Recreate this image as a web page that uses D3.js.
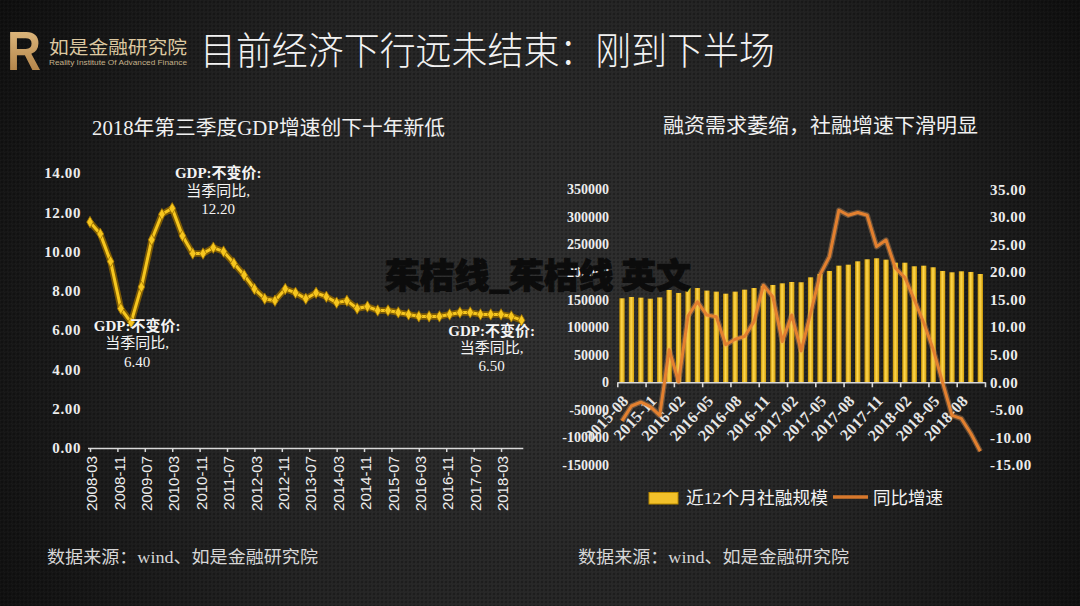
<!DOCTYPE html>
<html><head><meta charset="utf-8">
<script src="https://cdn.jsdelivr.net/npm/d3@7/dist/d3.min.js"></script>
<style>html,body{margin:0;padding:0;background:#1a1a1a;overflow:hidden}</style>
</head><body><script>
// ---------------- DATA ----------------
const gdpQuarters = ["2008-03","2008-06","2008-09","2008-12","2009-03","2009-06","2009-09","2009-12",
  "2010-03","2010-06","2010-09","2010-12","2011-03","2011-06","2011-09","2011-12",
  "2012-03","2012-06","2012-09","2012-12","2013-03","2013-06","2013-09","2013-12",
  "2014-03","2014-06","2014-09","2014-12","2015-03","2015-06","2015-09","2015-12",
  "2016-03","2016-06","2016-09","2016-12","2017-03","2017-06","2017-09","2017-12",
  "2018-03","2018-06","2018-09"];
const gdpValues = [11.5,10.9,9.5,7.1,6.4,8.2,10.6,11.9,12.2,10.8,9.9,9.9,10.2,10.0,9.4,8.8,
  8.1,7.6,7.5,8.1,7.9,7.6,7.9,7.7,7.4,7.5,7.1,7.2,7.0,7.0,6.9,6.8,6.7,6.7,6.7,6.8,6.9,6.9,6.8,6.8,6.8,6.7,6.5];
const gdpTickLabels = ["2008-03","2008-11","2009-07","2010-03","2010-11","2011-07","2012-03","2012-11",
  "2013-07","2014-03","2014-11","2015-07","2016-03","2016-11","2017-07","2018-03"];
const gdpYTicks = [0,2,4,6,8,10,12,14];
const gdpNoteQuarters = ["2010-03","2009-03","2018-09"];
const gdpNoteLines = ["GDP:不变价:","当季同比,"];

const tsfMonths = ["2015-08","2015-09","2015-10","2015-11","2015-12","2016-01","2016-02","2016-03","2016-04",
  "2016-05","2016-06","2016-07","2016-08","2016-09","2016-10","2016-11","2016-12","2017-01","2017-02",
  "2017-03","2017-04","2017-05","2017-06","2017-07","2017-08","2017-09","2017-10","2017-11","2017-12",
  "2018-01","2018-02","2018-03","2018-04","2018-05","2018-06","2018-07","2018-08","2018-09","2018-10"];
const tsfScale = [152300,154700,153500,151600,154000,167400,162000,171000,171000,166300,
  164400,160700,164400,168000,171000,174700,176500,179500,181900,181400,
  190400,196400,201900,211500,213300,219400,223100,224900,222400,216900,
  216900,210400,211500,208600,201900,199500,201300,200100,196400];
const tsfGrowth = [-7.0,-4.3,-3.6,-4.4,-6.0,5.9,0.1,12.0,14.6,12.2,
  11.9,6.8,7.8,8.3,11.0,17.6,15.5,7.4,12.2,5.7,
  12.5,19.5,22.8,31.2,30.3,30.8,30.3,24.6,25.8,20.7,
  19.0,15.0,10.8,6.0,0.0,-6.0,-6.6,-9.3,-12.5];
const tsfTickLabels = ["2015-08","2015-11","2016-02","2016-05","2016-08","2016-11","2017-02",
  "2017-05","2017-08","2017-11","2018-02","2018-05","2018-08"];
const tsfLeftTicks = [-150000,-100000,-50000,0,50000,100000,150000,200000,250000,300000,350000];
const tsfRightTicks = [-15,-10,-5,0,5,10,15,20,25,30,35];
const tsfLegend = ["近12个月社融规模","同比增速"];

const headerTitle = "目前经济下行远未结束：刚到下半场";
const logoCN = "如是金融研究院";
const logoEN = "Reality Institute Of Advanced Finance";
const leftTitle = "2018年第三季度GDP增速创下十年新低";
const rightTitle = "融资需求萎缩，社融增速下滑明显";
const sourceText = "数据来源：wind、如是金融研究院";
const watermark = "茱桔线_茱桔线 英文";

// ---------------- DRAW ----------------
const W = 1080, H = 606;
const SERIF = "'Liberation Serif','Noto Sans CJK SC',serif";
const CJK = "'Noto Sans CJK SC','Noto Sans',sans-serif";
const svg = d3.select("body").append("svg").attr("width", W).attr("height", H);
const defs = svg.append("defs");

const bg = defs.append("radialGradient").attr("id","bg").attr("gradientUnits","userSpaceOnUse")
  .attr("cx",540).attr("cy",320).attr("r",660);
bg.append("stop").attr("offset","0%").attr("stop-color","#303030");
bg.append("stop").attr("offset","55%").attr("stop-color","#232323");
bg.append("stop").attr("offset","100%").attr("stop-color","#0d0d0d");
const pat = defs.append("pattern").attr("id","tex").attr("width",4).attr("height",4).attr("patternUnits","userSpaceOnUse");
pat.append("circle").attr("cx",2).attr("cy",2).attr("r",1).attr("fill","#000").attr("opacity",0.3);
pat.append("circle").attr("cx",0).attr("cy",0).attr("r",0.8).attr("fill","#fff").attr("opacity",0.04);
pat.append("circle").attr("cx",4).attr("cy",4).attr("r",0.8).attr("fill","#fff").attr("opacity",0.04);

const barG = defs.append("linearGradient").attr("id","barg").attr("x1","0").attr("x2","1").attr("y1","0").attr("y2","0");
barG.append("stop").attr("offset","0%").attr("stop-color","#c99400");
barG.append("stop").attr("offset","45%").attr("stop-color","#ffd84e");
barG.append("stop").attr("offset","100%").attr("stop-color","#d39e08");
const logoG = defs.append("linearGradient").attr("id","logog").attr("x1","0").attr("x2","0").attr("y1","0").attr("y2","1");
logoG.append("stop").attr("offset","0%").attr("stop-color","#e8c48a");
logoG.append("stop").attr("offset","100%").attr("stop-color","#a8773c");

svg.append("rect").attr("width",W).attr("height",H).attr("fill","url(#bg)");
svg.append("rect").attr("width",W).attr("height",H).attr("fill","url(#tex)");

// Header
svg.append("text").attr("x",7).attr("y",70).attr("textLength",34).attr("lengthAdjust","spacingAndGlyphs")
  .style("font-family","'Liberation Sans',sans-serif").style("font-weight","bold").style("font-size","56px")
  .attr("fill","url(#logog)").text("R");
svg.append("text").attr("x",49).attr("y",54).attr("textLength",138).attr("lengthAdjust","spacingAndGlyphs")
  .style("font-family",CJK).style("font-size","18px").style("font-weight","400").attr("fill","#dcc8a0").text(logoCN);
svg.append("text").attr("x",49).attr("y",65).attr("textLength",138).attr("lengthAdjust","spacingAndGlyphs")
  .style("font-family","'Liberation Sans',sans-serif").style("font-size","7px").attr("fill","#c4b08a").text(logoEN);
svg.append("text").attr("x",200).attr("y",64).attr("textLength",575).attr("lengthAdjust","spacingAndGlyphs")
  .style("font-family",CJK).style("font-size","38px").style("font-weight","300").attr("fill","#f2f2f2").text(headerTitle);

// ============ LEFT CHART ============
const mi = s => (+s.slice(0,4))*12 + (+s.slice(5,7)) - 1;
const x0 = mi(gdpQuarters[0]);
const xL = d3.scaleLinear().domain([x0, x0 + 126.5]).range([90, 523.3]);
const yL = d3.scaleLinear().domain([0, 14]).range([448, 173]);

svg.append("text").attr("x",92).attr("y",135).attr("textLength",353).attr("lengthAdjust","spacingAndGlyphs")
  .style("font-family",SERIF).style("font-size","20px").attr("fill","#f0f0f0").text(leftTitle);

const yAxL = svg.append("g").attr("transform","translate(84,0)")
  .call(d3.axisLeft(yL).tickValues(gdpYTicks).tickFormat(d3.format(".2f")).tickSize(0).tickPadding(3));
yAxL.select(".domain").remove();
yAxL.selectAll("text").style("font-family",SERIF).style("font-size","15px").style("font-weight","bold")
  .style("letter-spacing","0.6px").attr("fill","#ececec");

const xAxL = svg.append("g").attr("transform","translate(0,448)")
  .call(d3.axisBottom(xL).tickValues(gdpTickLabels.map(mi))
    .tickFormat((d,i) => gdpTickLabels[i]).tickSize(4).tickSizeOuter(0));
xAxL.select(".domain").attr("stroke","#d8d8d8").attr("stroke-width",1.5).attr("d","M88,0.5H523.3");
xAxL.selectAll(".tick line").attr("stroke","#d8d8d8").attr("stroke-width",1.5);
xAxL.selectAll("text").attr("x",-8).attr("y",1.5).attr("dy","0.35em").attr("transform","rotate(-90)")
  .style("text-anchor","end").style("font-family","'Liberation Sans',sans-serif").style("font-size","15px").attr("fill","#eeeeee");

const gdpPts = gdpQuarters.map((q,i) => [xL(mi(q)), yL(gdpValues[i])]);
const gline = d3.line();
svg.append("path").attr("d",gline(gdpPts)).attr("fill","none").attr("stroke","#8c6400").attr("stroke-width",6.5)
  .attr("stroke-linejoin","round").attr("opacity",0.85);
svg.append("path").attr("d",gline(gdpPts)).attr("fill","none").attr("stroke","#f6c61e").attr("stroke-width",3)
  .attr("stroke-linejoin","round");
svg.append("g").selectAll("path").data(gdpPts).join("path")
  .attr("transform",d => `translate(${d[0]},${d[1]})`)
  .attr("d", d3.symbol(d3.symbolDiamond, 38))
  .attr("fill","#f6c61e").attr("stroke","#9a6e00").attr("stroke-width",0.8);

// annotations
const noteLayout = [{dx:46, dy:[-30,-12,6]}, {dx:6, dy:[9,26,45]}, {dx:-30, dy:[16,33,51]}];
gdpNoteQuarters.forEach((q,k) => {
  const i = gdpQuarters.indexOf(q);
  const px = xL(mi(q)), py = yL(gdpValues[i]);
  const lines = gdpNoteLines.concat([gdpValues[i].toFixed(2)]);
  const t = svg.append("g");
  lines.forEach((s,j) => {
    t.append("text").attr("x",px + noteLayout[k].dx).attr("y",py + noteLayout[k].dy[j])
      .attr("text-anchor","middle").style("font-family",SERIF).style("font-size","15px")
      .style("font-weight", j===0 ? "bold" : "normal").attr("fill","#f4f4f4").text(s);
  });
});

// ============ RIGHT CHART ============
svg.append("text").attr("x",663).attr("y",133).attr("textLength",315).attr("lengthAdjust","spacingAndGlyphs")
  .style("font-family",SERIF).style("font-size","20px").attr("fill","#f0f0f0").text(rightTitle);

const R0 = 617.3, R1 = 985;
const xB = d3.scaleBand().domain(tsfMonths).range([R0, R1]).paddingInner(0.44).paddingOuter(0.22);
const xI = d3.scaleLinear().domain([0, tsfMonths.length]).range([R0, R1]);
const yRL = d3.scaleLinear().domain([-150000, 350000]).range([465, 189.3]);
const yRR = d3.scaleLinear().domain([-15, 35]).range([465, 189.3]);

const yAxRL = svg.append("g").attr("transform","translate(611,0)")
  .call(d3.axisLeft(yRL).tickValues(tsfLeftTicks).tickFormat(d3.format("d")).tickSize(0).tickPadding(2));
yAxRL.select(".domain").remove();
yAxRL.selectAll("text").text(d => d < 0 ? "-" + Math.abs(d) : String(d))
  .style("font-family",SERIF).style("font-size","14px").style("font-weight","bold").attr("fill","#ececec");

const yAxRR = svg.append("g").attr("transform","translate(987,0)")
  .call(d3.axisRight(yRR).tickValues(tsfRightTicks).tickFormat(d3.format(".2f")).tickSize(0).tickPadding(3));
yAxRR.select(".domain").remove();
yAxRR.selectAll("text").text(d => (d < 0 ? "-" : "") + Math.abs(d).toFixed(2))
  .style("font-family",SERIF).style("font-size","15px").style("font-weight","bold")
  .style("letter-spacing","0.5px").attr("fill","#ececec");

// bars
svg.append("g").selectAll("rect").data(tsfMonths).join("rect")
  .attr("x", d => xB(d)).attr("width", xB.bandwidth())
  .attr("y", (d,i) => yRL(tsfScale[i])).attr("height", (d,i) => yRL(0) - yRL(tsfScale[i]))
  .attr("fill","url(#barg)");

// x axis
const tickIdx = tsfTickLabels.map(l => tsfMonths.indexOf(l)).concat([tsfMonths.length]);
const xAxR = svg.append("g").attr("transform",`translate(0,${yRL(0)})`)
  .call(d3.axisBottom(xI).tickValues(tickIdx).tickFormat("").tickSize(5).tickSizeOuter(0));
xAxR.select(".domain").attr("stroke","#d8d8d8").attr("stroke-width",1.6);
xAxR.selectAll(".tick line").attr("stroke","#d8d8d8").attr("stroke-width",1.6);

const xLab = svg.append("g").attr("transform",`translate(0,${yRL(0)})`)
  .call(d3.axisBottom(xB).tickValues(tsfTickLabels).tickSize(0));
xLab.select(".domain").remove();
xLab.selectAll("text").attr("x",-9).attr("y",13).attr("dy","0.35em").attr("transform","rotate(-47)")
  .style("text-anchor","end").style("font-family",SERIF).style("font-size","16px").style("font-weight","bold")
  .style("letter-spacing","0.3px").attr("fill","#e6e6e6");

// growth line
const rline = d3.line().x((d,i) => xB(tsfMonths[i]) + xB.bandwidth()/2).y(d => yRR(d));
svg.append("path").attr("d",rline(tsfGrowth)).attr("fill","none").attr("stroke","#f0a868").attr("stroke-width",5.5)
  .attr("stroke-linejoin","round").attr("opacity",0.35);
svg.append("path").attr("d",rline(tsfGrowth)).attr("fill","none").attr("stroke","#e3802f").attr("stroke-width",3)
  .attr("stroke-linejoin","round");

// legend
svg.append("rect").attr("x",649).attr("y",492.5).attr("width",29).attr("height",11.5).attr("fill","#f2c12a")
  .attr("stroke","#b98a00").attr("stroke-width",1);
svg.append("text").attr("x",686).attr("y",504).attr("textLength",142).attr("lengthAdjust","spacingAndGlyphs")
  .style("font-family",SERIF).style("font-size","17.5px").attr("fill","#f2f2f2").text(tsfLegend[0]);
svg.append("line").attr("x1",833).attr("x2",868).attr("y1",497).attr("y2",497).attr("stroke","#d7782c").attr("stroke-width",3.5);
svg.append("text").attr("x",873).attr("y",504).attr("textLength",70).attr("lengthAdjust","spacingAndGlyphs")
  .style("font-family",SERIF).style("font-size","17.5px").attr("fill","#f2f2f2").text(tsfLegend[1]);

// sources
[47, 578].forEach(x => {
  svg.append("text").attr("x",x).attr("y",563).attr("textLength",271).attr("lengthAdjust","spacingAndGlyphs")
    .style("font-family",SERIF).style("font-size","17px").attr("fill","#d6d6d6").text(sourceText);
});

// watermark
svg.append("text").attr("x",385).attr("y",288).attr("textLength",306).attr("lengthAdjust","spacingAndGlyphs")
  .style("font-family",CJK).style("font-size","34px").style("font-weight","900").attr("fill","#0c0c0c")
  .attr("stroke","#0c0c0c").attr("stroke-width",1).text(watermark);
</script></body></html>
